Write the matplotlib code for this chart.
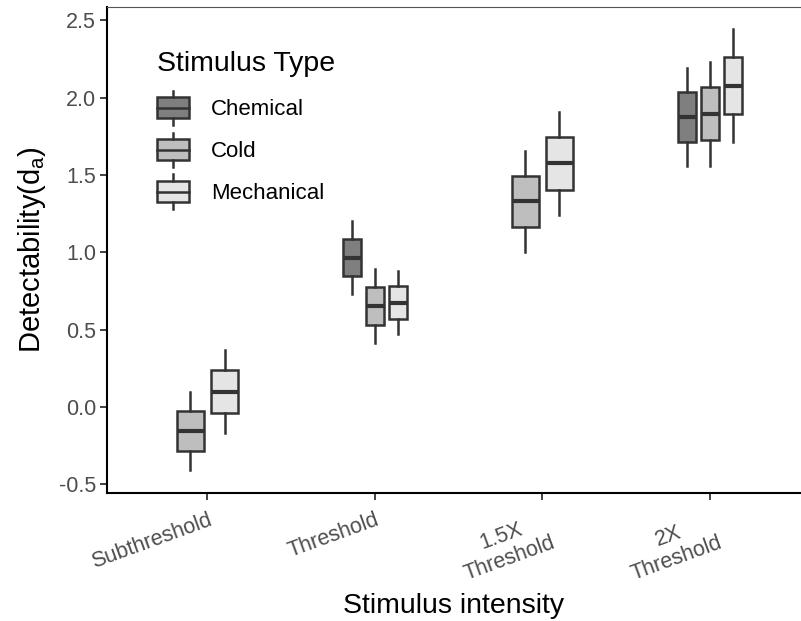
import matplotlib
matplotlib.use('Agg')
import matplotlib.pyplot as plt
from matplotlib.legend_handler import HandlerBase
from matplotlib.patches import Patch, Rectangle
from matplotlib.lines import Line2D

plt.rcParams['font.family'] = ['Liberation Sans', 'DejaVu Sans']
plt.rcParams['mathtext.fontset'] = 'custom'
plt.rcParams['mathtext.rm'] = 'Liberation Sans'

intensities = ['Subthreshold', 'Threshold', '1.5X\nThreshold', '2X\nThreshold']
types = ['Chemical', 'Cold', 'Mechanical']
fills = ['#7f7f7f', '#bebebe', '#e5e5e5']

# (whisker low, q1, median, q3, whisker high) per intensity, None = no data
chemical = [None,
            (0.729, 0.845, 0.965, 1.086, 1.205),
            None,
            (1.558, 1.711, 1.875, 2.039, 2.194)]
cold = [(-0.41, -0.287, -0.155, -0.024, 0.10),
        (0.412, 0.528, 0.651, 0.774, 0.892),
        (1.002, 1.164, 1.332, 1.494, 1.657),
        (1.558, 1.726, 1.894, 2.067, 2.233)]
mechanical = [(-0.17, -0.04, 0.095, 0.24, 0.37),
              (0.47, 0.569, 0.674, 0.780, 0.877),
              (1.241, 1.403, 1.580, 1.748, 1.909),
              (1.715, 1.892, 2.077, 2.265, 2.442)]
series = [chemical, cold, mechanical]

edge = '#333333'
dodge = 0.41


class BoxKey(HandlerBase):
    def create_artists(self, legend, orig_handle, xdescent, ydescent,
                       width, height, fontsize, trans):
        x0, y0 = -xdescent, -ydescent
        cx = x0 + width / 2
        lo, hi = y0 + 0.19 * height, y0 + 0.81 * height
        r = Rectangle((x0, lo), width, hi - lo, facecolor=orig_handle.get_facecolor(),
                      edgecolor=edge, lw=1.8, transform=trans)
        w1 = Line2D([cx, cx], [y0, lo], color=edge, lw=1.8, transform=trans)
        w2 = Line2D([cx, cx], [hi, y0 + height], color=edge, lw=1.8, transform=trans)
        m = Line2D([x0, x0 + width], [(lo + hi) / 2] * 2, color=edge, lw=1.8, transform=trans)
        return [r, w1, w2, m]


fig = plt.figure(figsize=(8.01, 6.21), dpi=100)
ax = fig.add_axes([107 / 801, 1 - 493 / 621, 1 - 107 / 801, 486 / 621])

for i in range(len(intensities)):
    present = [k for k in range(len(types)) if series[k][i] is not None]
    n = len(present)
    slot = dodge / n
    for j, k in enumerate(present):
        wl, q1, med, q3, wh = series[k][i]
        pos = i - dodge / 2 + slot * (j + 0.5)
        stats = [dict(whislo=wl, q1=q1, med=med, q3=q3, whishi=wh, fliers=[])]
        ax.bxp(stats, positions=[pos], widths=slot * 0.78, patch_artist=True,
               showcaps=False, manage_ticks=False,
               boxprops=dict(facecolor=fills[k], edgecolor=edge, lw=1.8),
               whiskerprops=dict(color=edge, lw=1.8),
               medianprops=dict(color=edge, lw=3.0, solid_capstyle='butt'))

ax.set_xlim(-0.6, 3.545)
ax.set_ylim(-0.556, 2.586)
ax.set_yticks([-0.5, 0.0, 0.5, 1.0, 1.5, 2.0, 2.5])
ax.set_yticklabels(['-0.5', '0.0', '0.5', '1.0', '1.5', '2.0', '2.5'])
ax.set_xticks(range(len(intensities)))
ax.set_xticklabels(intensities, rotation=20, ha='right', va='top',
                   rotation_mode='anchor', multialignment='center')

ax.tick_params(axis='both', colors=edge, labelcolor='#4d4d4d', labelsize=15.5,
               length=5, width=1.3)
ax.tick_params(axis='x', pad=7)
ax.tick_params(axis='y', pad=3)
for s in ['left', 'bottom']:
    ax.spines[s].set_linewidth(1.5)
    ax.spines[s].set_color('black')
ax.spines['right'].set_visible(False)
ax.spines['top'].set_linewidth(0.8)
ax.spines['top'].set_color('#555555')

ax.set_xlabel('Stimulus intensity', fontsize=20.5, labelpad=6)
ax.set_ylabel(r'Detectability$\mathregular{(d_a)}$', fontsize=21, labelpad=8)

handles = [Patch(facecolor=c, edgecolor=edge) for c in fills]
leg = ax.legend(handles, types, title='Stimulus Type', handler_map={Patch: BoxKey()},
                loc='upper left', bbox_to_anchor=(0.072, 0.91), frameon=False,
                fontsize=16, title_fontsize=20.5, alignment='left', borderpad=0,
                handlelength=1.44, handleheight=2.0, labelspacing=0.34,
                handletextpad=1.0, borderaxespad=0)
# a bit more room between the legend title and the first key
leg._legend_box.sep = 10

fig.savefig('out.png', dpi=100)
